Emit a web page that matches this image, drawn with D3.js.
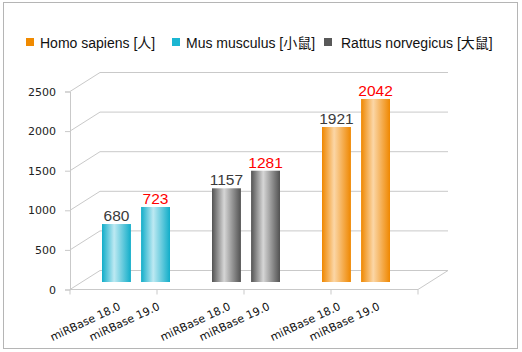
<!DOCTYPE html>
<html>
<head>
<meta charset="utf-8">
<script src="https://cdn.jsdelivr.net/npm/d3@7"></script>
<style>
  body { margin: 0; background: #fff; }
  svg { display: block; }
</style>
</head>
<body>
<script>
// data
var species = ["Mus", "Rattus", "Homo"];
var versions = ["miRBase 18.0", "miRBase 19.0"];
// printed numbers above the bars
var labels18 = [680, 1157, 1921];
var labels19 = [723, 1281, 2042];
// bar heights as drawn (19.0 bars are drawn taller than their labels)
var heights18 = [732, 1183, 1957];
var heights19 = [947, 1405, 2311];
var yTicks = [0, 500, 1000, 1500, 2000, 2500];
var legendNames = ["Homo sapiens [人]", "Mus musculus [小鼠]", "Rattus norvegicus [大鼠]"];
var legendKeys = ["Homo", "Mus", "Rattus"];

var width = 522, height = 352;
var depthX = 30, depthY = -19; // oblique offset of the back wall

var colors = {
  Mus:    { edge: "#11adc9", mid: "#bde9f2", swatch: "#1bb6d2" },
  Rattus: { edge: "#525252", mid: "#d6d6d6", swatch: "#595959" },
  Homo:   { edge: "#ef8700", mid: "#fbd6a6", swatch: "#f08a00" }
};

var svg = d3.select("body").append("svg")
    .attr("width", width)
    .attr("height", height);

// outer frame
svg.append("rect")
    .attr("x", 3.5).attr("y", 2.5)
    .attr("width", 514).attr("height", 346)
    .attr("fill", "#fff")
    .attr("stroke", "#b5b5b5");

// gradients for cylinder-ish bars
var defs = svg.append("defs");
species.forEach(function (s) {
  var g = defs.append("linearGradient")
      .attr("id", "grad-" + s)
      .attr("x1", "0%").attr("x2", "100%");
  g.append("stop").attr("offset", "0%").attr("stop-color", colors[s].edge);
  g.append("stop").attr("offset", "42%").attr("stop-color", colors[s].mid);
  g.append("stop").attr("offset", "100%").attr("stop-color", colors[s].edge);
});

// scales
var xFront = d3.scaleLinear().domain([0, 4]).range([70, 418]);
var yFront = d3.scaleLinear().domain([0, 2500]).range([289.5, 91.5]);
var yBack = function (v) { return yFront(v) + depthY; };
var yBar = d3.scaleLinear().domain([0, 2500]).range([282, 84]);

var x0 = d3.scaleBand().domain(species).range([81, 411]);
var x1 = d3.scaleBand().domain(versions).range([21, 89]).paddingInner(0.26);

var gridColor = "#c9c9c9";

// back wall gridlines and side diagonals
var grid = svg.append("g");
yTicks.forEach(function (t) {
  grid.append("line")
      .attr("x1", xFront(0) + depthX).attr("x2", xFront(4) + depthX)
      .attr("y1", yBack(t)).attr("y2", yBack(t))
      .attr("stroke", gridColor);
  grid.append("line")
      .attr("x1", xFront(0)).attr("x2", xFront(0) + depthX)
      .attr("y1", yFront(t)).attr("y2", yBack(t))
      .attr("stroke", gridColor);
});
// floor front edge and right side
grid.append("line")
    .attr("x1", xFront(0)).attr("x2", xFront(4))
    .attr("y1", yFront(0)).attr("y2", yFront(0))
    .attr("stroke", gridColor);
grid.append("line")
    .attr("x1", xFront(4)).attr("x2", xFront(4) + depthX)
    .attr("y1", yFront(0)).attr("y2", yBack(0))
    .attr("stroke", gridColor);

// y axis
var yAxis = d3.axisLeft(yFront).tickValues(yTicks).tickFormat(d3.format("d"))
    .tickSize(5).tickPadding(9);
var yg = svg.append("g")
    .attr("transform", "translate(" + xFront(0) + ",0)")
    .call(yAxis);
yg.select(".domain").attr("stroke", gridColor);
yg.selectAll(".tick line").attr("stroke", gridColor);
yg.selectAll(".tick text")
    .attr("font-family", "DejaVu Sans, Verdana, sans-serif")
    .attr("font-size", 11)
    .attr("fill", "#222");

// category ticks on the floor edge
svg.append("g").selectAll("line")
    .data(d3.range(5))
    .enter().append("line")
    .attr("x1", function (d) { return xFront(d); })
    .attr("x2", function (d) { return xFront(d); })
    .attr("y1", yFront(0)).attr("y2", yFront(0) + 5)
    .attr("stroke", gridColor);

// bars
var rows = [];
species.forEach(function (s, i) {
  rows.push({ s: s, v: versions[0], h: heights18[i], label: labels18[i], red: false });
  rows.push({ s: s, v: versions[1], h: heights19[i], label: labels19[i], red: true });
});

svg.append("g").selectAll("rect")
    .data(rows)
    .enter().append("rect")
    .attr("x", function (d) { return x0(d.s) + x1(d.v); })
    .attr("y", function (d) { return yBar(d.h); })
    .attr("width", x1.bandwidth())
    .attr("height", function (d) { return yBar(0) - yBar(d.h); })
    .attr("fill", function (d) { return "url(#grad-" + d.s + ")"; });

// value labels
svg.append("g").selectAll("text")
    .data(rows)
    .enter().append("text")
    .attr("x", function (d) { return x0(d.s) + x1(d.v) + x1.bandwidth() / 2; })
    .attr("y", function (d) { return yBar(d.h) - 3; })
    .attr("text-anchor", "middle")
    .attr("font-family", "Liberation Sans, Arial, sans-serif")
    .attr("font-size", 15.5)
    .attr("fill", function (d) { return d.red ? "#ff0000" : "#3a3a3a"; })
    .text(function (d) { return d.label; });

// rotated category labels
svg.append("g").selectAll("text")
    .data(rows)
    .enter().append("text")
    .attr("transform", function (d) {
      var cx = x0(d.s) + x1(d.v) + x1.bandwidth() / 2 + 5;
      return "translate(" + cx + ",309) rotate(-25)";
    })
    .attr("text-anchor", "end")
    .attr("font-family", "DejaVu Sans, Verdana, sans-serif")
    .attr("font-size", 11)
    .attr("fill", "#111")
    .text(function (d) { return d.v; });

// legend
var legendX = [26, 172, 324];
var legend = svg.append("g").selectAll("g")
    .data(legendKeys)
    .enter().append("g")
    .attr("transform", function (d, i) { return "translate(" + legendX[i] + ",38)"; });
legend.append("rect")
    .attr("width", 8).attr("height", 8)
    .attr("fill", function (d) { return colors[d].swatch; });
legend.append("text")
    .attr("x", function (d, i) { return i == 2 ? 17 : 14; })
    .attr("y", 9.5)
    .attr("font-family", "Liberation Sans, Arial, 'Noto Sans CJK SC', sans-serif")
    .attr("font-size", 14)
    .attr("fill", "#111")
    .text(function (d, i) { return legendNames[i]; });
</script>
</body>
</html>
